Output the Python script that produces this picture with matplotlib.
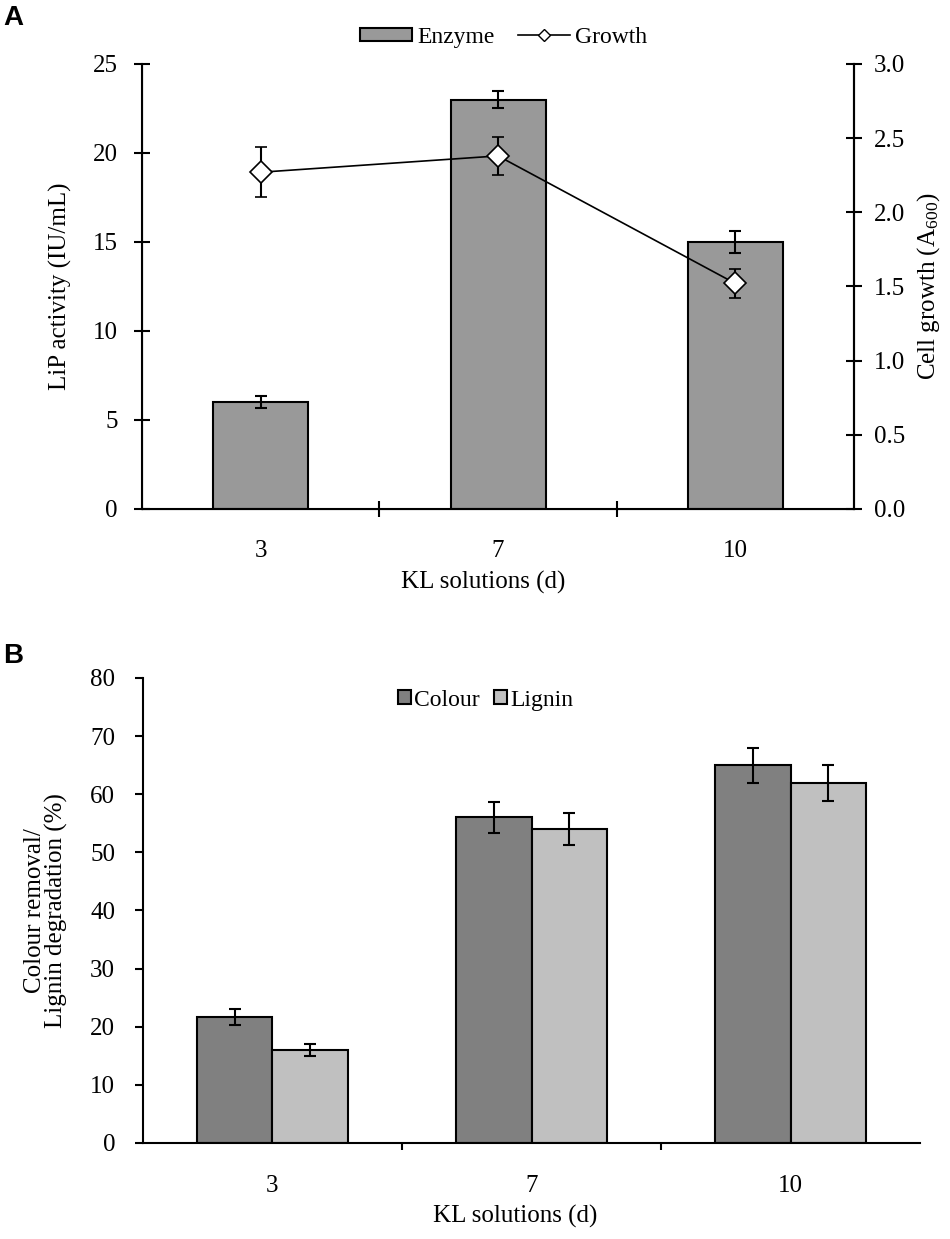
import numpy as np
import matplotlib
matplotlib.use("Agg")
import matplotlib.pyplot as plt
from matplotlib.lines import Line2D
from matplotlib.ticker import FormatStrFormatter

plt.rcParams["font.family"] = ["Liberation Serif", "DejaVu Serif"]
plt.rcParams["mathtext.default"] = "regular"

# data
days = ["3", "7", "10"]
enzyme = [6.0, 23.0, 15.0]
enzyme_err = [0.35, 0.5, 0.6]
growth = [2.27, 2.38, 1.52]
growth_err = [0.17, 0.13, 0.1]
colour = [21.7, 56.0, 65.0]
colour_err = [1.4, 2.6, 3.0]
lignin = [16.0, 54.0, 62.0]
lignin_err = [1.1, 2.7, 3.1]

x = np.arange(len(days))
lw = 1.5
fs = 18
err_kw = dict(elinewidth=lw, capthick=lw, capsize=4, ecolor="black")

fig = plt.figure(figsize=(9.5, 12.39), dpi=100)

# ---- panel A
axA = fig.add_axes([0.1495, 0.5892, 0.7495, 0.3592])
bars = axA.bar(x, enzyme, width=0.4, color="#999999", edgecolor="black",
               linewidth=lw, yerr=enzyme_err, error_kw=err_kw, zorder=2)
axA.set_xlim(-0.5, 2.5)
axA.set_ylim(0, 25)
axA.set_yticks(np.arange(0, 26, 5))
axA.set_xticks(x)
axA.set_xticklabels(days)
axA.set_xticks([0.5, 1.5], minor=True)
axA.tick_params(axis="x", which="major", length=0, pad=22, labelsize=fs)
axA.tick_params(axis="x", which="minor", direction="inout", length=11, width=lw)
axA.tick_params(axis="y", direction="inout", length=11, width=lw, pad=12,
                labelsize=fs)
axA.spines["top"].set_visible(False)
for s in ["left", "right", "bottom"]:
    axA.spines[s].set_linewidth(lw)
axA.set_ylabel("LiP activity (IU/mL)", fontsize=fs)
axA.yaxis.set_label_coords(-0.115, 0.5)
axA.yaxis.label.set_va("center")
axA.set_xlabel("KL solutions (d)", fontsize=fs)
axA.xaxis.set_label_coords(0.479, -0.165)
axA.xaxis.label.set_va("center")

axR = axA.twinx()
axR.errorbar(x, growth, yerr=growth_err, color="black", lw=1.2,
             marker="D", ms=11, mfc="white", mec="black", mew=1.2,
             elinewidth=lw, capthick=lw, capsize=4, zorder=3)
axR.set_ylim(0, 3)
axR.set_yticks(np.arange(0, 3.01, 0.5))
axR.yaxis.set_major_formatter(FormatStrFormatter("%.1f"))
axR.tick_params(axis="y", direction="inout", length=11, width=lw, pad=9,
                labelsize=fs)
axR.spines["top"].set_visible(False)
axR.spines["right"].set_linewidth(lw)
axR.set_ylabel("Cell growth (A$_{600}$)", fontsize=fs)
axR.yaxis.set_label_coords(1.105, 0.5)
axR.yaxis.label.set_va("center")

growth_handle = Line2D([], [], color="black", lw=1.2, marker="D", ms=6,
                       mfc="white", mec="black")
fig.legend([bars, growth_handle], ["Enzyme", "Growth"], loc="center",
           bbox_to_anchor=(0.53, 0.970), ncol=2, frameon=False, fontsize=17,
           handlelength=2.2, handleheight=0.5, handletextpad=0.2,
           columnspacing=1.0)

# ---- panel B
axB = fig.add_axes([0.1505, 0.0775, 0.818, 0.3753])
w = 0.29
b1 = axB.bar(x - w / 2, colour, width=w, color="#808080", edgecolor="black",
             linewidth=lw, yerr=colour_err, error_kw=err_kw, label="Colour")
b2 = axB.bar(x + w / 2, lignin, width=w, color="#c0c0c0", edgecolor="black",
             linewidth=lw, yerr=lignin_err, error_kw=err_kw, label="Lignin")
axB.set_xlim(-0.5, 2.5)
axB.set_ylim(0, 80)
axB.set_yticks(np.arange(0, 81, 10))
axB.set_xticks(x)
axB.set_xticklabels(days)
axB.set_xticks([0.5, 1.5], minor=True)
axB.tick_params(axis="x", which="major", length=0, pad=23, labelsize=fs)
axB.tick_params(axis="x", which="minor", direction="out", length=5, width=lw)
axB.tick_params(axis="y", direction="out", length=6, width=lw, pad=14,
                labelsize=fs)
axB.spines["top"].set_visible(False)
axB.spines["right"].set_visible(False)
for s in ["left", "bottom"]:
    axB.spines[s].set_linewidth(lw)
axB.set_ylabel("Colour removal/\nLignin degradation (%)", fontsize=fs,
               linespacing=0.95)
axB.yaxis.set_label_coords(-0.125, 0.5)
axB.yaxis.label.set_va("center")
axB.set_xlabel("KL solutions (d)", fontsize=fs)
axB.xaxis.set_label_coords(0.479, -0.157)
axB.xaxis.label.set_va("center")
axB.legend([b1, b2], ["Colour", "Lignin"], loc="center",
           bbox_to_anchor=(0.511, 0.435), bbox_transform=fig.transFigure,
           ncol=2, frameon=False, fontsize=17, handlelength=0.55,
           handleheight=0.55, handletextpad=0.15, columnspacing=0.6)

# panel letters
fig.text(0.003, 0.996, "A", fontsize=20, fontweight="bold",
         family="Liberation Sans", va="top", ha="left")
fig.text(0.003, 0.481, "B", fontsize=20, fontweight="bold",
         family="Liberation Sans", va="top", ha="left")

fig.savefig("out.png", dpi=100)
